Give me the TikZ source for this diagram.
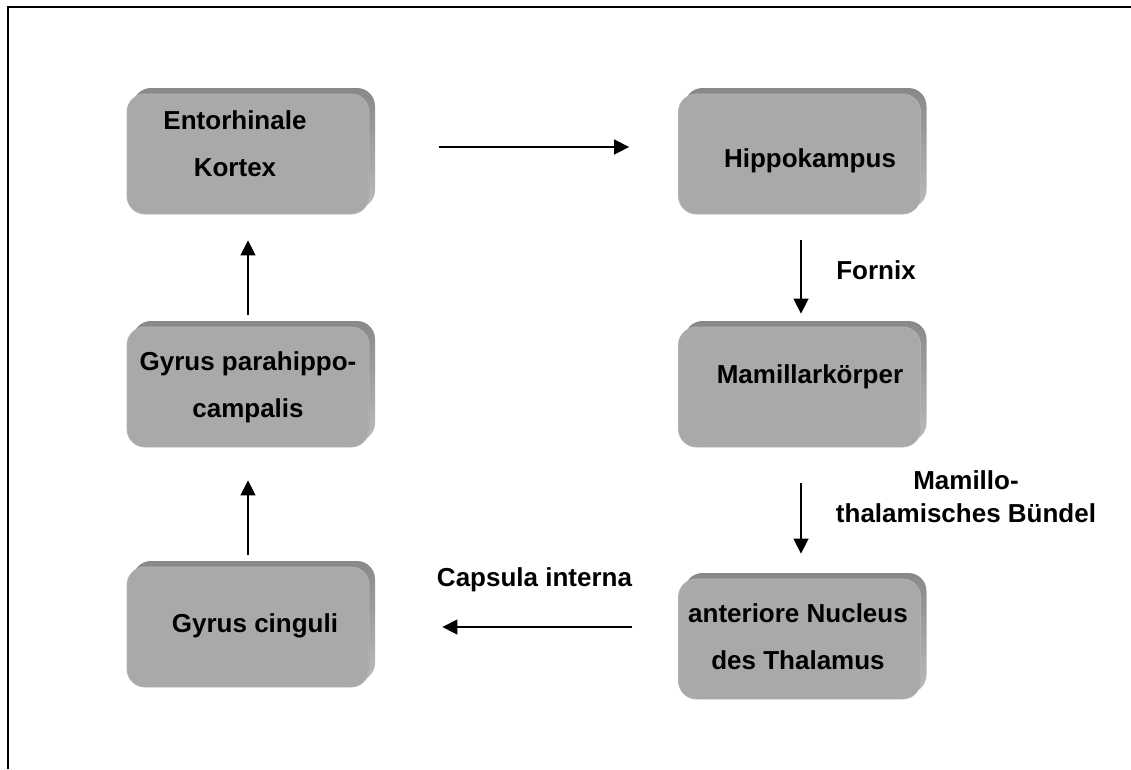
\documentclass[tikz,border=0pt]{standalone}
\usepackage{fontspec}
\setmainfont{Liberation Sans}
\usetikzlibrary{arrows.meta,shadows}
\definecolor{boxc}{HTML}{A9A9A9}
\definecolor{beveltop}{HTML}{888888}
\definecolor{bevelbot}{HTML}{BBBBBB}
\definecolor{edgec}{HTML}{B2B2B2}
\begin{document}
\begin{tikzpicture}[x=1pt,y=-1pt,
  box/.style={rounded corners=18pt, fill=boxc, draw=edgec, line width=0.8pt,
    minimum width=242pt, minimum height=120pt, inner sep=0pt,
    general shadow={top color=beveltop, bottom color=bevelbot, draw=none, shadow xshift=6pt, shadow yshift=6pt}},
  txt/.style={align=center, inner sep=0pt, font=\bfseries\fontsize{26}{47}\selectfont},
  lbl/.style={align=center, inner sep=0pt, font=\bfseries\fontsize{26}{33}\selectfont},
  arr/.style={line width=1.5pt, -{Triangle[length=15pt,width=15pt]}},
  frame/.style={line width=2pt}]
\useasboundingbox (0,0) rectangle (1131,769);
% frame
\draw[frame] (8,769) -- (8,7) -- (1131,7);
% boxes
\node[box] (E) at (248,154) {};
\node[box] (H) at (799.5,154) {};
\node[box] (M) at (799.5,387) {};
\node[box] (P) at (248,387) {};
\node[box] (C) at (248,627) {};
\node[box] (A) at (799.5,639) {};
% box texts
\node[txt] (tE) at (235,144) {Entorhinale\\Kortex};
\node[txt] (tH) at (810,161) {Hippokampus};
\node[txt] (tM) at (810,377) {Mamillarkörper};
\node[txt] (tP) at (248,387.5) {Gyrus parahippo-\\campalis};
\node[txt] (tC) at (255,626) {Gyrus cinguli};
\node[txt] (tA) at (798,637) {anteriore Nucleus\\des Thalamus};
% labels
\node[lbl] (lF) at (876,270) {Fornix};
\node[lbl] (lMT) at (966,497) {Mamillo-\\thalamisches Bündel};
\node[lbl] (lCI) at (534.5,580) {Capsula interna};
% arrows
\draw[arr] ([shift={(70,-7)}]E.east) -- ([shift={(-49,-7)}]H.west);
\draw[arr] ([shift={(1.5,26)}]H.south) -- ([shift={(1.5,-13)}]M.north);
\draw[arr] ([shift={(1.5,36)}]M.south) -- ([shift={(1.5,-25)}]A.north);
\draw[arr] ([shift={(-46,-12)}]A.west) -- ([shift={(73,0)}]C.east);
\draw[arr] ([yshift=12]C.north) -- ([yshift=-33]P.south);
\draw[arr] ([yshift=12]P.north) -- ([yshift=-26]E.south);
\end{tikzpicture}
\end{document}
